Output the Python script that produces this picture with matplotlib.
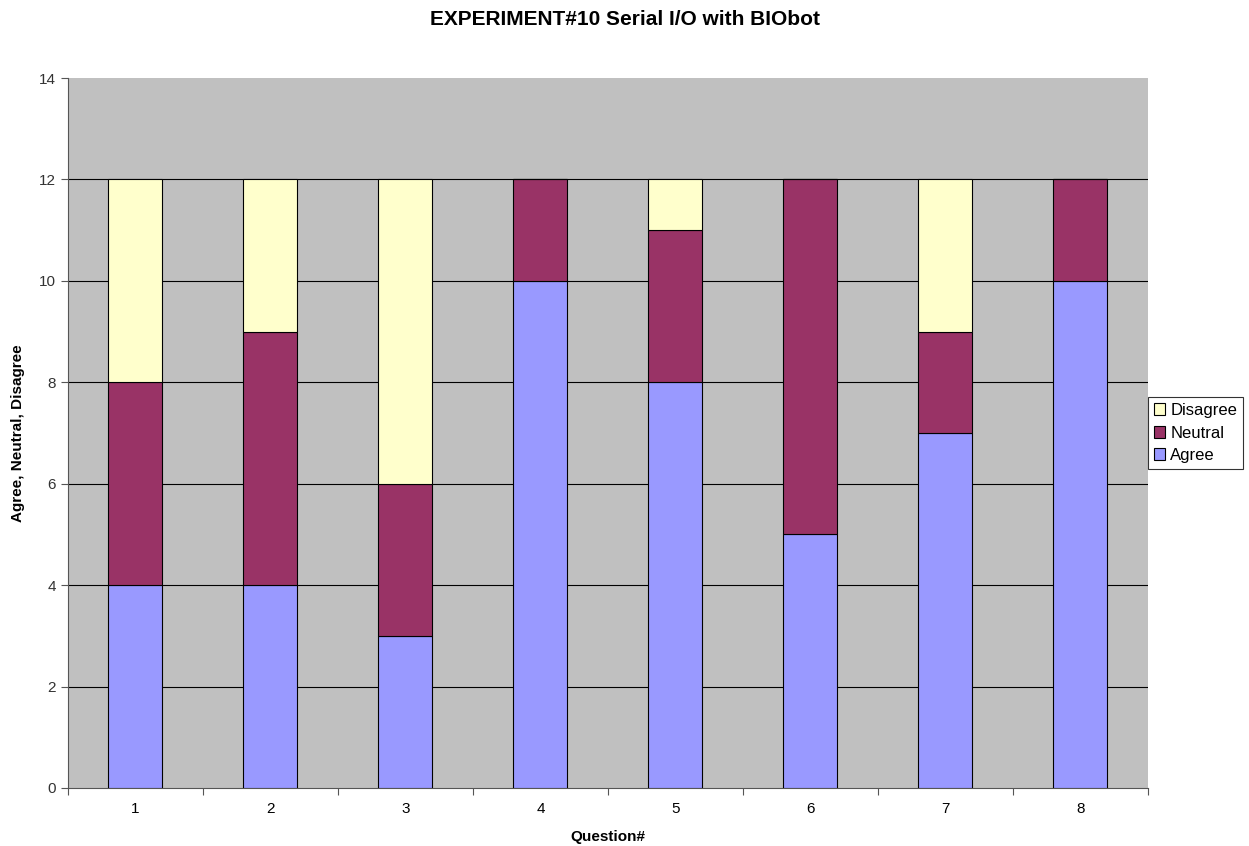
import numpy as np
import matplotlib.pyplot as plt

plt.rcParams['font.family'] = ['Liberation Sans', 'DejaVu Sans']

questions = ['1', '2', '3', '4', '5', '6', '7', '8']
agree = [4, 4, 3, 10, 8, 5, 7, 10]
neutral = [4, 5, 3, 2, 3, 7, 2, 2]
disagree = [4, 3, 6, 0, 1, 0, 3, 0]

fig = plt.figure(figsize=(12.49, 8.46), dpi=100)
ax = fig.add_axes([0.0544, 0.0686, 0.8647, 0.8392])
ax.set_facecolor('#c0c0c0')

x = np.arange(len(questions))
w = 0.4
agree = np.array(agree)
neutral = np.array(neutral)
disagree = np.array(disagree)

ax.bar(x, agree, w, color='#9999ff', edgecolor='black', linewidth=0.8, label='Agree', zorder=3)
ax.bar(x, neutral, w, bottom=agree, color='#993366', edgecolor='black', linewidth=0.8, label='Neutral', zorder=3)
ax.bar(x, disagree, w, bottom=agree + neutral, color='#ffffcc', edgecolor='black', linewidth=0.8, label='Disagree', zorder=3)

ax.set_xlim(-0.5, len(questions) - 0.5)
ax.set_ylim(0, 14)
ax.set_yticks(range(0, 15, 2))
# gridlines, but not on the top edge
for yv in range(2, 14, 2):
    ax.axhline(yv, color='black', linewidth=0.8, zorder=1)

# category labels centred, tick marks at boundaries
ax.set_xticks(np.arange(-0.5, len(questions)), minor=False)
ax.set_xticklabels([])
ax.set_xticks(x, minor=True)
ax.set_xticklabels(questions, minor=True)
ax.tick_params(axis='x', which='minor', length=0, pad=10, labelsize=11, colors='black')
ax.tick_params(axis='x', which='major', length=5, direction='out', color='#555555')
ax.tick_params(axis='y', length=5, labelsize=11, colors='#333333', color='#555555')

for s in ['top', 'right']:
    ax.spines[s].set_visible(False)
ax.spines['left'].set_color('#555555')
ax.spines['bottom'].set_color('#555555')

ax.set_xlabel('Question#', fontsize=11, fontweight='bold', labelpad=10)
ax.set_ylabel('Agree, Neutral, Disagree', fontsize=11, fontweight='bold', labelpad=10)
fig.suptitle('EXPERIMENT#10 Serial I/O with BIObot', fontsize=15, fontweight='bold', x=0.5, y=0.988)

handles, labels = ax.get_legend_handles_labels()
leg = fig.legend(handles[::-1], labels[::-1], loc='center left', bbox_to_anchor=(0.919, 0.488),
                 frameon=True, fancybox=False, edgecolor='black', fontsize=12,
                 handlelength=0.7, handleheight=0.7, handletextpad=0.3, borderpad=0.35,
                 labelspacing=0.45, borderaxespad=0)
leg.get_frame().set_linewidth(0.8)

fig.savefig('out.png', dpi=100)
